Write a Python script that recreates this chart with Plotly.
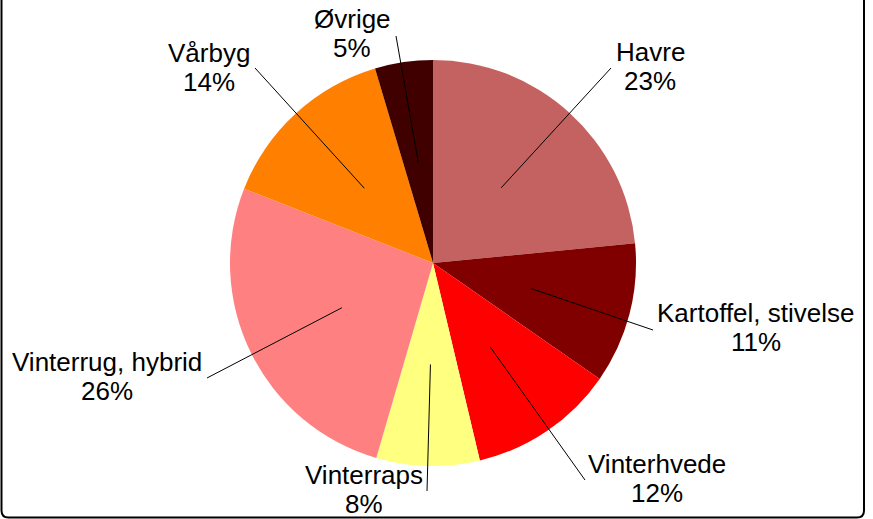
import math
import plotly.graph_objects as go

W, H = 873, 519

crops = ["Havre", "Kartoffel, stivelse", "Vinterhvede", "Vinterraps",
         "Vinterrug, hybrid", "Vårbyg", "Øvrige"]
shares = [23.4, 11.2, 11.6, 8.2, 26.4, 14.4, 4.6]
colors = ["#C46262", "#800000", "#FF0000", "#FFFF80", "#FF8080", "#FF8000", "#400000"]

# label layout (pixel positions of label centre x, first-line baseline, leader-line outer end)
label_pos = {
    "Havre": (650, 61, 611, 68),
    "Kartoffel, stivelse": (756, 322, 653, 330),
    "Vinterhvede": (657, 473, 585, 480),
    "Vinterraps": (364, 484, 427, 491),
    "Vinterrug, hybrid": (107, 371, 207, 378),
    "Vårbyg": (209, 62, 255, 68),
    "Øvrige": (352, 28, 396, 36),
}

CX, CY, R = 433, 263, 203
FS = 26
LINE_GAP = 28.5


def px(x):
    return x / W


def py(y):
    return 1 - y / H


fig = go.Figure(go.Pie(
    labels=crops, values=shares, sort=False, direction="clockwise", rotation=0,
    marker=dict(colors=colors, line=dict(width=0)),
    textinfo="none", hoverinfo="label+percent", showlegend=False,
    domain=dict(x=[px(CX - R), px(CX + R)], y=[py(CY + R), py(CY - R)]),
))

total = sum(shares)
shapes = []
annotations = []
cum = 0.0
for name, v in zip(crops, shares):
    mid = (cum + v / 2) / total * 2 * math.pi
    cum += v
    ix = CX + 0.5 * R * math.sin(mid)
    iy = CY - 0.5 * R * math.cos(mid)
    lx, lb, ox, oy = label_pos[name]
    shapes.append(dict(type="line", xref="paper", yref="paper",
                       x0=px(ix), y0=py(iy), x1=px(ox), y1=py(oy),
                       line=dict(color="#000000", width=1)))
    pct = f"{round(v / total * 100):.0f}%"
    for i, txt in enumerate([name, pct]):
        base = lb + i * LINE_GAP
        annotations.append(dict(
            text=txt, xref="paper", yref="paper", x=px(lx), y=py(base - 0.33 * FS),
            xanchor="center", yanchor="middle", showarrow=False,
            font=dict(family="Liberation Sans, Arial", size=FS, color="#000000")))

# outer rounded border
x0, x1 = px(1.5), px(864)
yb, yt = py(517.5), py(-10)
rx, ry = 7 / W, 7 / H
path = (f"M {x0},{yt} L {x0},{yb + ry} Q {x0},{yb} {x0 + rx},{yb} "
        f"L {x1 - rx},{yb} Q {x1},{yb} {x1},{yb + ry} L {x1},{yt}")
shapes.append(dict(type="path", xref="paper", yref="paper", path=path,
                   line=dict(color="#000000", width=2)))

fig.update_layout(
    width=W, height=H, margin=dict(l=0, r=0, t=0, b=0),
    paper_bgcolor="white", plot_bgcolor="white",
    shapes=shapes, annotations=annotations,
)

fig.write_html(
    "out.html",
    config={"displayModeBar": False},
    post_script="document.body.style.margin='0';document.body.style.overflow='hidden';",
)
